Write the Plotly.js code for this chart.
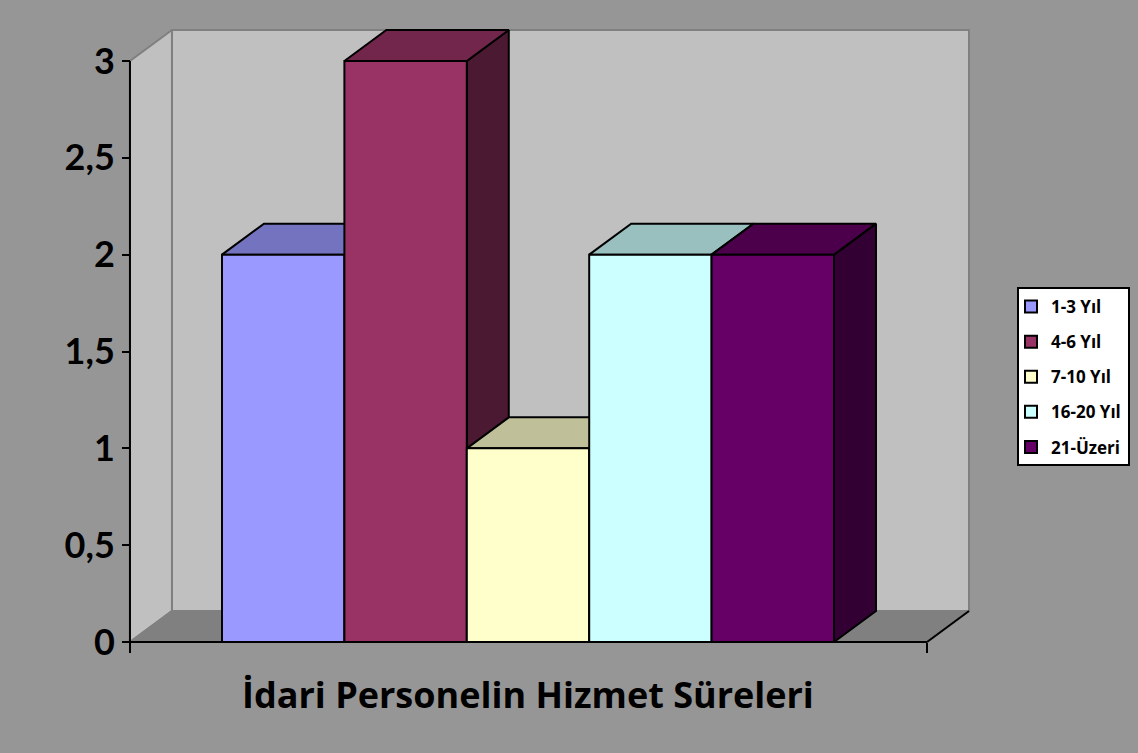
<!DOCTYPE html>
<html>
<head>
<meta charset="utf-8">
<script src="https://cdn.plot.ly/plotly-3.0.1.min.js"></script>
<style>html,body{margin:0;padding:0;background:#969696;}#chart{width:1138px;height:753px;}</style>
</head>
<body>
<div id="chart"></div>
<script>
// ---- data ----
const categoryLabel = 'İdari Personelin Hizmet Süreleri';
const seriesNames = ['1-3 Yıl', '4-6 Yıl', '7-10 Yıl', '16-20 Yıl', '21-Üzeri'];
const seriesValues = [2, 3, 1, 2, 2];
const yTickVals = [0, 0.5, 1, 1.5, 2, 2.5, 3];
const yTickText = ['0', '0,5', '1', '1,5', '2', '2,5', '3'];

// ---- style ----
const frontColors = ['#9999FF', '#993366', '#FFFFCC', '#CCFFFF', '#660066'];
const topColors   = ['#7373BF', '#73264C', '#BFBF99', '#99BFBF', '#4C004C'];
const sideColors  = ['#4C4C7F', '#4C1933', '#7F7F66', '#667F7F', '#330033'];
const TICKFONT = 'Lato, "Open Sans", sans-serif';
const TEXTFONT = '"Open Sans", Lato, sans-serif';

// geometry (axis units): each bar is 1 unit wide, depth offset DX/DY
const XL = -0.752, XR = 5.76, DX = 0.343, DY = 0.16, YMAX = 3;

const traces = [];
function poly(xs, ys, fill, line, lw) {
  traces.push({
    type: 'scatter', mode: 'lines', x: xs.concat([xs[0]]), y: ys.concat([ys[0]]),
    fill: 'toself', fillcolor: fill, line: {color: line, width: lw},
    hoverinfo: 'skip', showlegend: false
  });
}
function seg(xs, ys, color, lw) {
  traces.push({type: 'scatter', mode: 'lines', x: xs, y: ys,
    line: {color: color, width: lw}, hoverinfo: 'skip', showlegend: false});
}

// walls & floor
poly([XL + DX, XL + DX, XR + DX, XR + DX], [DY, YMAX + DY, YMAX + DY, DY], '#C0C0C0', '#808080', 2);
poly([XL, XL, XL + DX, XL + DX], [0, YMAX, YMAX + DY, DY], '#C0C0C0', '#808080', 2);
poly([XL, XR, XR + DX, XL + DX], [0, 0, DY, DY], '#808080', '#808080', 2);
seg([XR, XR + DX], [0, DY], '#000000', 2);

// bars (left to right)
seriesValues.forEach((v, i) => {
  poly([i + 1, i + 1, i + 1 + DX, i + 1 + DX], [0, v, v + DY, DY], sideColors[i], '#000000', 2);
  poly([i, i + DX, i + 1 + DX, i + 1], [v, v + DY, v + DY, v], topColors[i], '#000000', 2);
  poly([i, i, i + 1, i + 1], [0, v, v, 0], frontColors[i], '#000000', 2);
});

// axis lines
seg([XL, XL], [0, YMAX], '#000000', 2);
seg([XL, XR], [0, 0], '#000000', 2);

// legend entries
seriesNames.forEach((n, i) => {
  traces.push({type: 'bar', x: [null], y: [null], name: n, legendgroup: 'g' + i,
    marker: {color: frontColors[i], line: {color: '#000000', width: 2}}, showlegend: true});
});

// plot area pixels
const PL = 127, PR = 971, PT = 26, PB = 645;
const x0px = 222, xUnit = 122.4, y0px = 642, yUnit = 193.67;
const xRange = [(PL - x0px) / xUnit, (PR - x0px) / xUnit];
const yRange = [(y0px - PB) / yUnit, (y0px - PT) / yUnit];
const px2px = (p) => (p - PL) / (PR - PL);
const py2py = (p) => (PB - p) / (PB - PT);

const layout = {
  width: 1138, height: 753,
  paper_bgcolor: '#969696', plot_bgcolor: 'rgba(0,0,0,0)',
  margin: {l: PL, r: 1138 - PR, t: PT, b: 753 - PB},
  showlegend: true,
  xaxis: {range: xRange, showgrid: false, zeroline: false, showline: false,
    tickmode: 'array', tickvals: [XL, XR], showticklabels: false,
    ticks: 'outside', ticklen: 10, tickwidth: 2, tickcolor: '#000000',
    anchor: 'free', position: (PB - y0px) / (PB - PT), fixedrange: true},
  yaxis: {range: yRange, showgrid: false, zeroline: false, showline: false,
    tickmode: 'array', tickvals: yTickVals, ticktext: yTickText,
    ticks: 'outside', ticklen: 8, tickwidth: 2, tickcolor: '#000000',
    tickfont: {family: TICKFONT, size: 36, color: '#000000', weight: 'bold'},
    anchor: 'free', position: px2px(130), fixedrange: true},
  legend: {x: px2px(1011), y: py2py(289), xanchor: 'left', yanchor: 'top',
    bgcolor: 'rgba(0,0,0,0)', borderwidth: 0,
    font: {family: TEXTFONT, size: 17, color: '#000000', weight: 'bold'},
    traceorder: 'grouped', tracegroupgap: 10, itemwidth: 30},
  shapes: [{type: 'rect', xref: 'paper', yref: 'paper', layer: 'below',
    x0: px2px(1018), x1: px2px(1129), y0: py2py(288), y1: py2py(465),
    fillcolor: '#FFFFFF', line: {color: '#000000', width: 2}}],
  annotations: [{text: categoryLabel, xref: 'x', yref: 'paper', x: (XL + XR) / 2,
    y: py2py(694), xanchor: 'center', yanchor: 'middle', showarrow: false,
    font: {family: TEXTFONT, size: 36, color: '#000000', weight: 'bold'}}]
};

Plotly.newPlot('chart', traces, layout, {displayModeBar: false, staticPlot: true});
</script>
</body>
</html>
